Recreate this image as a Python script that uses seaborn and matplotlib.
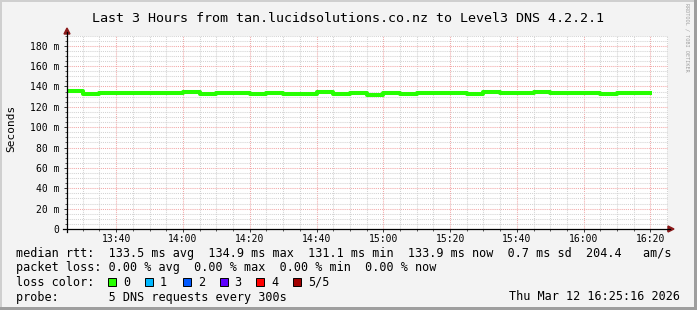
import matplotlib
matplotlib.use("Agg")
import matplotlib.pyplot as plt
from matplotlib.patches import Rectangle, Polygon
from matplotlib.lines import Line2D
from matplotlib.ticker import FixedLocator, MultipleLocator
import seaborn as sns
import pandas as pd

# ---------------- data ----------------
title = "Last 3 Hours from tan.lucidsolutions.co.nz to Level3 DNS 4.2.2.1"
sample_times = ["13:25", "13:30", "13:35", "13:40", "13:45", "13:50", "13:55",
                "14:00", "14:05", "14:10", "14:15", "14:20", "14:25", "14:30",
                "14:35", "14:40", "14:45", "14:50", "14:55", "15:00", "15:05",
                "15:10", "15:15", "15:20", "15:25", "15:30", "15:35", "15:40",
                "15:45", "15:50", "15:55", "16:00", "16:05", "16:10", "16:15",
                "16:20"]
median_ms = [135.2, 132.6, 133.6, 133.6, 133.2, 133.9, 133.4, 134.3, 132.8,
             133.5, 133.9, 132.7, 133.9, 133.0, 132.7, 134.3, 132.8, 133.5,
             131.1, 133.9, 132.7, 133.1, 133.2, 133.6, 132.6, 134.2, 133.1,
             133.9, 134.9, 134.0, 133.1, 133.5, 133.0, 133.4, 133.9]
smoke_lo = [133.8, 131.6, 133.0, 133.0, 132.6, 133.3, 131.6, 133.7, 132.2,
            132.9, 133.3, 132.1, 133.3, 132.4, 132.1, 133.7, 132.2, 132.9,
            130.6, 133.3, 132.1, 132.5, 131.9, 133.0, 132.0, 133.6, 132.5,
            133.3, 134.0, 133.4, 132.5, 132.9, 131.8, 132.8, 133.3]
smoke_hi = [135.9, 133.2, 134.2, 134.3, 133.8, 134.5, 133.9, 134.8, 133.4,
            134.0, 134.4, 133.3, 134.5, 133.6, 133.3, 134.9, 133.4, 134.1,
            133.6, 134.5, 133.3, 133.7, 133.8, 134.2, 133.2, 135.9, 133.7,
            134.5, 136.3, 134.6, 133.7, 134.1, 133.6, 134.0, 134.5]
x_tick_labels = ["13:40", "14:00", "14:20", "14:40", "15:00", "15:20",
                 "15:40", "16:00", "16:20"]
y_tick_values = [0, 20, 40, 60, 80, 100, 120, 140, 160, 180]
window_start = "13:25:16"
window_end = "16:25:16"

rtt_line = "median rtt:  133.5 ms avg  134.9 ms max  131.1 ms min  133.9 ms now  0.7 ms sd  204.4   am/s"
loss_line = "packet loss: 0.00 % avg  0.00 % max  0.00 % min  0.00 % now"
loss_labels = ["0", "1", "2", "3", "4", "5/5"]
loss_colors = ["#26ff00", "#00b8ff", "#0059ff", "#5e00ff", "#ff0000", "#a10000"]
probe_line = "probe:       5 DNS requests every 300s"
stamp_text = "Thu Mar 12 16:25:16 2026"


def to_min(s):
    p = [int(v) for v in s.split(":")]
    m = (p[0] - 13) * 60 + p[1]
    if len(p) > 2:
        m += p[2] / 60.0
    return m


xs = [to_min(t) for t in sample_times]
df = pd.DataFrame({"t": xs,
                   "med": median_ms + [median_ms[-1]],
                   "lo": smoke_lo + [smoke_lo[-1]],
                   "hi": smoke_hi + [smoke_hi[-1]]})

# ---------------- figure ----------------
W, H = 697, 310
MONO = "DejaVu Sans Mono"
plt.rcParams["font.family"] = MONO
fig = plt.figure(figsize=(W / 100, H / 100), dpi=100, facecolor="#f3f3f3")


def fx(x):
    return x / W


def fy(y):
    return 1 - y / H


ax_l, ax_r, ax_t, ax_b = 67, 668, 35.5, 229
ax = fig.add_axes([fx(ax_l), fy(ax_b), (ax_r - ax_l) / W, (ax_b - ax_t) / H])
ax.set_facecolor("white")

# smoke
ax.fill_between(df["t"], df["lo"], df["hi"], step="post", color="#8a8a8a",
                lw=0, zorder=3)
# median line
sns.lineplot(data=df, x="t", y="med", drawstyle="steps-post", color="#26ff00",
             lw=2.9, estimator=None, ax=ax, zorder=4)

ax.set_xlim(to_min(window_start), to_min(window_end))
ax.set_ylim(0, 190)

ax.xaxis.set_major_locator(FixedLocator([to_min(t) for t in x_tick_labels]))
ax.set_xticklabels(x_tick_labels)
ax.xaxis.set_minor_locator(MultipleLocator(5))
ax.yaxis.set_major_locator(FixedLocator(y_tick_values))
ax.set_yticklabels(["0" if v == 0 else f"{v} m" for v in y_tick_values])
ax.yaxis.set_minor_locator(MultipleLocator(5))

ax.grid(which="minor", color="#d3d3d3", linestyle=(0, (1, 1)), lw=0.75, zorder=1)
ax.grid(which="major", color="#f2a8a8", linestyle=(0, (1, 1)), lw=0.75, zorder=2)
ax.set_axisbelow(True)
for s in ax.spines.values():
    s.set_visible(False)

ax.tick_params(axis="both", which="major", labelsize=7, length=2.2, width=0.7,
               color="#333333", labelcolor="black")
ax.tick_params(axis="both", which="minor", length=1.5, width=0.7, color="#555555")
ax.tick_params(axis="x", which="major", pad=1.2)
ax.tick_params(axis="y", which="major", pad=3.5)
ax.set_xlabel("")
ax.set_ylabel("")

# axis lines with arrows
fig.add_artist(Line2D([fx(67), fx(67)], [fy(232), fy(32)], color="black",
                      lw=0.9, transform=fig.transFigure))
fig.add_artist(Polygon([(fx(64), fy(34)), (fx(70), fy(34)), (fx(67), fy(28))],
                       closed=True, color="#8b1a1a", transform=fig.transFigure))
fig.add_artist(Line2D([fx(63), fx(670)], [fy(229), fy(229)], color="black",
                      lw=0.9, transform=fig.transFigure))
fig.add_artist(Polygon([(fx(668), fy(226)), (fx(668), fy(232)), (fx(674), fy(229))],
                       closed=True, color="#8b1a1a", transform=fig.transFigure))

# title and labels
fig.text(fx(347.5), fy(19), title, ha="center", va="center", fontsize=9.6,
         family=MONO)
fig.text(fx(11), fy(128), "Seconds", ha="center", va="center", rotation=90,
         fontsize=8, family=MONO)
fig.text(fx(687), fy(37), "RRDTOOL / TOBI OETIKER", ha="center", va="center",
         rotation=270, fontsize=3.7, color="#a0a0a0", family=MONO)

# legend rows
r1, r2, r3, r4 = 254, 268, 282, 297
fs = 8.5
fig.text(fx(16), fy(r1), rtt_line, va="center", fontsize=fs)
fig.text(fx(16), fy(r2), loss_line, va="center", fontsize=fs)
fig.text(fx(16), fy(r3), "loss color:", va="center", fontsize=fs)
box_x = [108, 145, 182.7, 219.6, 256.4, 292.9]
for lab, col, bx in zip(loss_labels, loss_colors, box_x):
    fig.add_artist(Rectangle((fx(bx), fy(r3 + 4)), 8 / W, 8 / H, facecolor=col,
                             edgecolor="black", lw=0.7, transform=fig.transFigure))
    fig.text(fx(bx + 15), fy(r3), lab, va="center", fontsize=fs)
fig.text(fx(16), fy(r4), probe_line, va="center", fontsize=fs)
fig.text(fx(680), fy(r4), stamp_text, va="center", ha="right", fontsize=fs)

# 3D-ish frame
fig.add_artist(Rectangle((0, 1 - 2 / H), 1, 2 / H, color="#cfcfcf",
                         transform=fig.transFigure, lw=0))
fig.add_artist(Rectangle((0, 0), 2 / W, 1, color="#cfcfcf",
                         transform=fig.transFigure, lw=0))
fig.add_artist(Rectangle((1 - 3 / W, 0), 3 / W, 1, color="#9e9e9e",
                         transform=fig.transFigure, lw=0))
fig.add_artist(Rectangle((0, 0), 1, 3 / H, color="#9e9e9e",
                         transform=fig.transFigure, lw=0))

fig.savefig("out.png", dpi=100, facecolor=fig.get_facecolor())
